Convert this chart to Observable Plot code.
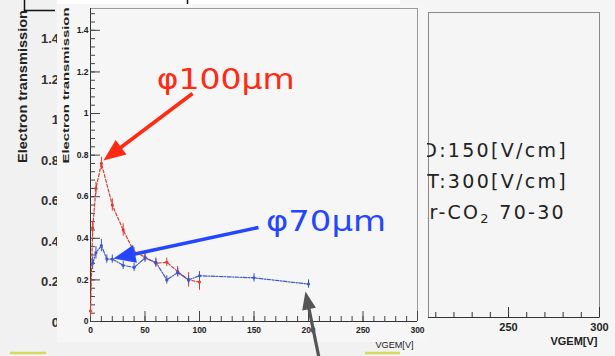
<!DOCTYPE html>
<html><head><meta charset="utf-8">
<script src="https://cdn.jsdelivr.net/npm/d3@7"></script>
<script src="https://cdn.jsdelivr.net/npm/@observablehq/plot@0.6"></script>
<style>
body{margin:0;background:#f4f4f4;}
#wrap{position:relative;width:615px;height:356px;overflow:hidden;background:#f1f1f1;font-family:"Liberation Sans",Arial,sans-serif;}
.abs{position:absolute;}
.rt{position:absolute;white-space:nowrap;font-family:"DejaVu Sans",sans-serif;font-size:19px;line-height:19px;color:#222;letter-spacing:2.3px;text-align:right;}
</style></head><body><div id="wrap"></div>
<script>
// ---- data ----
const redV   = [0, 2, 5, 10, 20, 30, 40, 50, 60, 70, 80, 90, 100];
const redT   = [0.05, 0.45, 0.64, 0.76, 0.56, 0.44, 0.335, 0.31, 0.28, 0.285, 0.24, 0.20, 0.19];
const redErr = [0.03, 0.03, 0.03, 0.03, 0.03, 0.03, 0.02, 0.02, 0.02, 0.02, 0.025, 0.035, 0.04];
const blueV   = [2, 5, 10, 15, 20, 30, 40, 50, 60, 70, 80, 90, 100, 150, 200];
const blueT   = [0.28, 0.33, 0.365, 0.30, 0.30, 0.27, 0.26, 0.305, 0.285, 0.20, 0.235, 0.20, 0.22, 0.21, 0.18];
const blueErr = [0.03, 0.03, 0.03, 0.02, 0.02, 0.02, 0.02, 0.02, 0.02, 0.02, 0.02, 0.02, 0.02, 0.02, 0.02];
const yMajor = [0, 0.2, 0.4, 0.6, 0.8, 1, 1.2, 1.4];
const yLabels = ["0", "0.2", "0.4", "0.6", "0.8", "1", "1.2", "1.4"];
const yMinor = d3.range(0, 1.5, 0.04).map(v => +v.toFixed(2));
const xMajor = [0, 50, 100, 150, 200, 250, 300];
const xMinor = d3.range(0, 301, 10);
const rMajor = [250, 300];
const rMinor = d3.range(210, 301, 10);
const backLabels = ["1.4", "1.2", "1", "0.8", "0.6", "0.4", "0.2", "0"];
const infoLines = ["ED:150[V/cm]", "ET:300[V/cm]"];

const RED = "#e03a30", BLUE = "#3a56d0";
const redData = redV.map((v, i) => ({v, t: redT[i], e: redErr[i]}));
const blueData = blueV.map((v, i) => ({v, t: blueT[i], e: blueErr[i]}));
const yLab = new Map(yMajor.map((t, i) => [t, yLabels[i]]));
const narrow = "'Liberation Sans Narrow','Liberation Sans',Arial,sans-serif";
const wrap = document.getElementById("wrap");

// ---- back layer (partially hidden chart) ----
const back = d3.create("svg").attr("width", 615).attr("height", 356).attr("class", "abs").style("left", 0).style("top", 0);
back.append("rect").attr("x", 57).attr("y", 0).attr("width", 560).attr("height", 10).attr("fill", "#fff");
back.append("text").text("Electron transmission")
  .attr("transform", "translate(27,163) rotate(-90)")
  .attr("font-family", "Liberation Sans,Arial,sans-serif").attr("font-weight", "bold").attr("font-size", 13)
  .attr("textLength", 153).attr("lengthAdjust", "spacingAndGlyphs").attr("fill", "#222");
const backY = d3.scaleLinear().domain([0, 1.4]).range([322, 38]);
backLabels.forEach(l => {
  back.append("text").text(l).attr("x", 59).attr("y", backY(+l) + 5).attr("text-anchor", "end")
    .attr("font-family", narrow).attr("font-weight", "bold").attr("font-size", 13).attr("fill", "#333");
});
back.append("path").attr("d", "M24.5,0V10.5H55").attr("stroke", "#111").attr("stroke-width", 1.5).attr("fill", "none");
back.append("path").attr("d", "M187.5,0V8").attr("stroke", "#111").attr("stroke-width", 1.5);
back.append("path").attr("d", "M10,353H46M365,353H615").attr("stroke", "#d3da5c").attr("stroke-width", 2.5);
wrap.appendChild(back.node());

// ---- right panel ----
const rH = 356 - 12 - 39;
const right = Plot.plot({
  width: 215, height: 356, marginLeft: 28, marginRight: 16, marginTop: 12, marginBottom: 39,
  x: {domain: [206, 300], label: null}, y: {domain: [0, 1], axis: null},
  style: {background: "#f5f5f5", overflow: "visible", color: "#222"},
  marks: [
    Plot.frame({stroke: "#8a8a8a"}),
    Plot.ruleY([0], {stroke: "#333"}),
    Plot.tickX(rMinor, {x: d => d, insetTop: rH - 5, stroke: "#333"}),
    Plot.tickX(rMajor, {x: d => d, insetTop: rH - 10, stroke: "#333"}),
    Plot.axisX({ticks: rMajor, tickSize: 0, tickPadding: 6, fontSize: 11, fontWeight: "bold", fontFamily: narrow}),
    Plot.text(["VGEM[V]"], {frameAnchor: "bottom-right", dy: 27, dx: -2, textAnchor: "end", fontSize: 11, fontWeight: "bold", fontFamily: narrow})
  ]
});
right.classList.add("abs");
right.style.left = "400px"; right.style.top = "0px";
wrap.appendChild(right);
const tops = [141, 172];
infoLines.forEach((l, i) => {
  const d = document.createElement("div");
  d.className = "rt"; d.textContent = l;
  d.style.right = (615 - 568) + "px"; d.style.top = tops[i] + "px";
  wrap.appendChild(d);
});
const d3l = document.createElement("div");
d3l.className = "rt"; d3l.innerHTML = "Ar-CO<sub style='font-size:13px;vertical-align:-4px;line-height:0'>2</sub> 70-30";
d3l.style.right = (615 - 566) + "px"; d3l.style.top = "203px";
wrap.appendChild(d3l);

// ---- front panel ----
const panel = document.createElement("div");
panel.className = "abs";
Object.assign(panel.style, {left: "57px", top: "4px", width: "370px", height: "338px", background: "#f6f6f6"});
wrap.appendChild(panel);

// filled arrow (shaft + triangular head) drawn by Plot.vector
const arrowShape = (w, hl, hw) => ({
  draw(ctx, l) {
    ctx.moveTo(-w / 2, 0);
    ctx.lineTo(-w / 2, -(l - hl));
    ctx.lineTo(-hw / 2, -(l - hl));
    ctx.lineTo(0, -l);
    ctx.lineTo(hw / 2, -(l - hl));
    ctx.lineTo(w / 2, -(l - hl));
    ctx.lineTo(w / 2, 0);
    ctx.closePath();
  }
});
const xs = d3.scaleLinear([0, 300], [90, 417]), ys = d3.scaleLinear([0, 1.505], [321, 8]);
function arrowMark(a, color, w, hl, hw) {
  const dx = xs(a.x2) - xs(a.x1), dy = ys(a.y2) - ys(a.y1);
  return Plot.vector([a], {x: "x1", y: "y1", anchor: "start", length: Math.hypot(dx, dy),
    rotate: Math.atan2(dx, -dy) * 180 / Math.PI, shape: arrowShape(w, hl, hw), fill: color, stroke: "none"});
}

const fH = 356 - 8 - 35;
const main = Plot.plot({
  width: 615, height: 356, marginLeft: 90, marginRight: 198, marginTop: 8, marginBottom: 35,
  x: {domain: [0, 300], label: null}, y: {domain: [0, 1.505], label: null},
  style: {background: "transparent", overflow: "visible", color: "#222"},
  marks: [
    Plot.ruleY([1.505], {stroke: "#9a9a9a"}),
    Plot.ruleX([300], {stroke: "#9a9a9a"}),
    Plot.ruleX([0], {stroke: "#333"}),
    Plot.ruleY([0], {stroke: "#333"}),
    Plot.tickY(yMinor, {y: d => d, insetRight: 327 - 5, stroke: "#444"}),
    Plot.tickY(yMajor, {y: d => d, insetRight: 327 - 10, stroke: "#444"}),
    Plot.tickX(xMinor, {x: d => d, insetTop: fH - 5, stroke: "#444"}),
    Plot.tickX(xMajor, {x: d => d, insetTop: fH - 10, stroke: "#444"}),
    Plot.axisY({ticks: yMajor, tickSize: 0, tickPadding: 2, tickFormat: d => yLab.get(d), fontSize: 8.5, fontWeight: "bold", fontFamily: narrow}),
    Plot.axisX({ticks: xMajor, tickSize: 0, tickPadding: 5, fontSize: 8.5, fontWeight: "bold", fontFamily: narrow}),
    Plot.text(["VGEM[V]"], {frameAnchor: "bottom-right", dy: 26, dx: -4, textAnchor: "end", fontSize: 9.5, fontFamily: narrow, className: "xlab"}),
    Plot.text(["Electron transmission"], {frameAnchor: "top-left", rotate: -90, dx: -24, dy: -1, textAnchor: "end", lineAnchor: "middle", fontSize: 8.5, fontWeight: "bold", fontFamily: narrow, className: "ylab"}),
    // red series
    Plot.ruleX(redData, {x: "v", y1: d => d.t - d.e, y2: d => d.t + d.e, stroke: RED, strokeWidth: 1}),
    Plot.line(redData, {x: "v", y: "t", stroke: RED, strokeWidth: 1.2, strokeDasharray: "3,2"}),
    Plot.dot(redData, {x: "v", y: "t", r: 1.6, fill: RED}),
    // blue series
    Plot.ruleX(blueData, {x: "v", y1: d => d.t - d.e, y2: d => d.t + d.e, stroke: BLUE, strokeWidth: 1}),
    Plot.line(blueData, {x: "v", y: "t", stroke: BLUE, strokeWidth: 1.2, strokeDasharray: "4,1.5,1,1.5"}),
    Plot.dot(blueData, {x: "v", y: "t", r: 1.6, fill: BLUE}),
    // annotations
    arrowMark({x1: 93.6, y1: 1.096, x2: 11.9, y2: 0.774}, "#ff2a14", 3.6, 22, 18),
    arrowMark({x1: 154.1, y1: 0.452, x2: 21.1, y2: 0.303}, "#2446ff", 3.6, 22, 18),
    arrowMark({x1: 211, y1: -0.21, x2: 197.2, y2: 0.144}, "#555", 3.2, 18, 14),
    Plot.text(["φ100μm"], {x: 124, y: 1.12, lineAnchor: "bottom", fill: "#ff2a14", fontSize: 29, fontFamily: "DejaVu Sans, sans-serif", className: "ann1"}),
    Plot.text(["φ70μm"], {x: 216, y: 0.435, lineAnchor: "bottom", fill: "#2446ff", fontSize: 29, fontFamily: "DejaVu Sans, sans-serif", className: "ann2"})
  ]
});
main.classList.add("abs");
main.style.left = "0px"; main.style.top = "0px";
wrap.appendChild(main);
d3.select(main).selectAll(".ylab text").attr("textLength", 156).attr("lengthAdjust", "spacingAndGlyphs");
d3.select(main).selectAll(".xlab text").attr("textLength", 38).attr("lengthAdjust", "spacingAndGlyphs");
d3.select(main).selectAll(".ann1 text").attr("textLength", 138).attr("lengthAdjust", "spacingAndGlyphs");
d3.select(main).selectAll(".ann2 text").attr("textLength", 120).attr("lengthAdjust", "spacingAndGlyphs");
</script></body></html>
